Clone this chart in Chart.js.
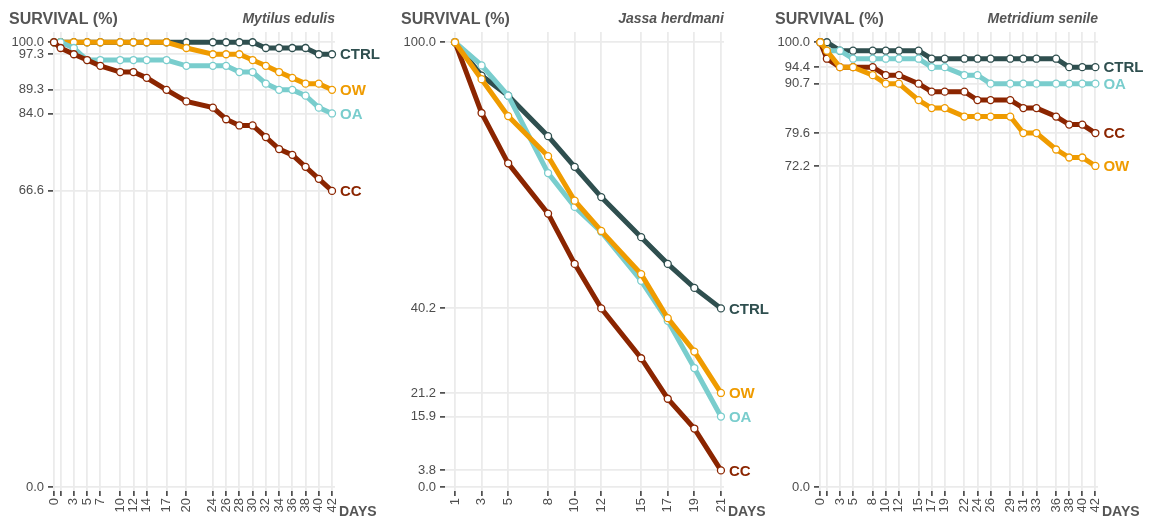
<!DOCTYPE html>
<html>
<head>
<meta charset="utf-8">
<script src="https://cdn.jsdelivr.net/npm/chart.js@4.4.0/dist/chart.umd.min.js"></script>
<style>
html, body { margin: 0; padding: 0; background: #fff; }
#wrap { position: relative; width: 1149px; height: 522px; overflow: hidden; }
.panel { position: absolute; top: 0; }
</style>
</head>
<body>
<div id="wrap">
  <div class="panel" style="left:0"><canvas id="c1" width="400" height="522"></canvas></div>
  <div class="panel" style="left:383px"><canvas id="c2" width="400" height="522"></canvas></div>
  <div class="panel" style="left:766px"><canvas id="c3" width="383" height="522"></canvas></div>
</div>
<script>
// treatments
var treatments = ['CTRL', 'OW', 'OA', 'CC'];
var colors = { CTRL: '#2f4f4f', OW: '#ef9b00', OA: '#79cdcd', CC: '#8b2500' };

// Mytilus edulis
var mytilusDays = [0, 1, 3, 5, 7, 10, 12, 14, 17, 20, 24, 26, 28, 30, 32, 34, 36, 38, 40, 42];
var mytilusCTRL = [100, 100, 100, 100, 100, 100, 100, 100, 100, 100, 100, 100, 100, 100, 98.7, 98.7, 98.7, 98.7, 97.3, 97.3];
var mytilusOW = [100, 100, 100, 100, 100, 100, 100, 100, 100, 98.7, 97.3, 97.3, 97.3, 96.0, 94.7, 93.3, 92.0, 90.7, 90.7, 89.3];
var mytilusOA = [100, 100, 98.7, 96.0, 96.0, 96.0, 96.0, 96.0, 96.0, 94.7, 94.7, 94.7, 93.3, 93.3, 90.7, 89.3, 89.3, 88.0, 85.3, 84.0];
var mytilusCC = [100, 98.7, 97.3, 96.0, 94.7, 93.3, 93.3, 92.0, 89.3, 86.7, 85.3, 82.7, 81.3, 81.3, 78.7, 76.0, 74.7, 72.0, 69.3, 66.6];
var mytilusYTicks = [0, 66.6, 84.0, 89.3, 97.3, 100];

// Jassa herdmani
var jassaDays = [1, 3, 5, 8, 10, 12, 15, 17, 19, 21];
var jassaCTRL = [100, 92.5, 88.0, 78.9, 72.0, 65.2, 56.2, 50.2, 44.8, 40.2];
var jassaOW = [100, 91.7, 83.4, 74.4, 64.4, 57.6, 47.9, 38.0, 30.5, 21.2];
var jassaOA = [100, 94.8, 88.0, 70.6, 63.0, 57.4, 46.4, 37.4, 26.8, 15.9];
var jassaCC = [100, 84.1, 72.8, 61.5, 50.2, 40.2, 29.0, 19.9, 13.2, 3.8];
var jassaYTicks = [0, 3.8, 15.9, 21.2, 40.2, 100];

// Metridium senile
var metridiumDays = [0, 1, 3, 5, 8, 10, 12, 15, 17, 19, 22, 24, 26, 29, 31, 33, 36, 38, 40, 42];
var metridiumCTRL = [100, 100, 98.1, 98.1, 98.1, 98.1, 98.1, 98.1, 96.3, 96.3, 96.3, 96.3, 96.3, 96.3, 96.3, 96.3, 96.3, 94.4, 94.4, 94.4];
var metridiumOW = [100, 98.1, 94.4, 94.4, 92.6, 90.7, 90.7, 87.0, 85.2, 85.2, 83.3, 83.3, 83.3, 83.3, 79.6, 79.6, 75.9, 74.1, 74.1, 72.2];
var metridiumOA = [100, 98.1, 98.1, 96.3, 96.3, 96.3, 96.3, 96.3, 94.4, 94.4, 92.6, 92.6, 90.7, 90.7, 90.7, 90.7, 90.7, 90.7, 90.7, 90.7];
var metridiumCC = [100, 96.3, 94.4, 94.4, 94.4, 92.6, 92.6, 90.7, 88.9, 88.9, 88.9, 87.0, 87.0, 87.0, 85.2, 85.2, 83.3, 81.5, 81.5, 79.6];
var metridiumYTicks = [0, 72.2, 79.6, 90.7, 94.4, 100];

var FONT = '"Liberation Sans", Arial, sans-serif';

var textPlugin = {
    id: 'panelText',
    afterDatasetsDraw: function (chart) {
        var ctx = chart.ctx;
        ctx.save();
        ctx.textBaseline = 'middle';
        ctx.textAlign = 'left';
        ctx.font = 'bold 15px ' + FONT;
        chart.data.datasets.forEach(function (ds, i) {
            var pts = chart.getDatasetMeta(i).data;
            var last = pts[pts.length - 1];
            ctx.fillStyle = ds.borderColor;
            ctx.fillText(ds.label, last.x + 8, last.y + 1);
        });
        ctx.restore();
    },
    afterDraw: function (chart) {
        var ctx = chart.ctx;
        var area = chart.chartArea;
        var o = chart.options.plugins.panelText;
        ctx.save();
        ctx.fillStyle = '#555555';
        ctx.textBaseline = 'alphabetic';
        ctx.font = 'bold 16px ' + FONT;
        ctx.textAlign = 'left';
        ctx.fillText('SURVIVAL (%)', area.left - 44, 24);
        ctx.font = 'italic bold 14px ' + FONT;
        ctx.textAlign = 'right';
        ctx.fillText(o.species, area.right, 23);
        ctx.font = 'bold 14px ' + FONT;
        ctx.textAlign = 'left';
        ctx.textBaseline = 'middle';
        ctx.fillText('DAYS', area.right + 4, 512);
        ctx.restore();
    }
};

function makePanel(id, p) {
    var canvas = document.getElementById(id);
    var datasets = p.series.map(function (s) {
        return {
            label: s.name,
            data: p.days.map(function (d, i) { return { x: d, y: s.values[i] }; }),
            borderColor: colors[s.name],
            backgroundColor: '#ffffff',
            pointBackgroundColor: '#ffffff',
            pointBorderColor: colors[s.name],
            pointBorderWidth: 1.3,
            pointRadius: 3.5,
            borderWidth: 5,
            tension: 0,
            clip: false,
            order: s.order
        };
    });
    new Chart(canvas, {
        type: 'line',
        data: { datasets: datasets },
        options: {
            responsive: false,
            animation: false,
            layout: { padding: { left: 0, right: canvas.width - p.right, top: 32, bottom: 0 } },
            plugins: {
                legend: { display: false },
                tooltip: { enabled: false },
                panelText: { species: p.species }
            },
            scales: {
                x: {
                    type: 'linear',
                    min: p.xmin,
                    max: p.xmax,
                    afterBuildTicks: function (scale) {
                        scale.ticks = p.days.map(function (v) { return { value: v }; });
                    },
                    afterFit: function (scale) { scale.height = 31; },
                    ticks: {
                        autoSkip: false,
                        minRotation: 90,
                        maxRotation: 90,
                        padding: 2,
                        color: '#4d4d4d',
                        font: { family: FONT, size: 13 },
                        callback: function (v) { return p.hideX.indexOf(v) >= 0 ? '' : String(v); }
                    },
                    grid: { color: '#ebebeb', lineWidth: 1.8, tickColor: '#333333', tickLength: 5, tickWidth: 1.5 },
                    border: { display: false }
                },
                y: {
                    type: 'linear',
                    min: -0.83,
                    max: 102.3,
                    afterBuildTicks: function (scale) {
                        scale.ticks = p.yTicks.map(function (v) { return { value: v }; });
                    },
                    afterFit: function (scale) { scale.width = p.left; },
                    ticks: {
                        padding: 4,
                        color: '#4d4d4d',
                        font: { family: FONT, size: 13 },
                        callback: function (v) { return Number(v).toFixed(1); }
                    },
                    grid: { color: '#ebebeb', lineWidth: 1.8, tickColor: '#333333', tickLength: 5, tickWidth: 1.5 },
                    border: { display: false }
                }
            }
        },
        plugins: [textPlugin]
    });
}

makePanel('c1', {
    species: 'Mytilus edulis',
    days: mytilusDays, yTicks: mytilusYTicks, hideX: [1],
    left: 53, right: 335, xmin: -0.15, xmax: 42.45,
    series: [
        { name: 'CTRL', values: mytilusCTRL, order: 4 },
        { name: 'OW', values: mytilusOW, order: 3 },
        { name: 'OA', values: mytilusOA, order: 2 },
        { name: 'CC', values: mytilusCC, order: 1 }
    ]
});

makePanel('c2', {
    species: 'Jassa herdmani',
    days: jassaDays, yTicks: jassaYTicks, hideX: [],
    left: 62, right: 341, xmin: 0.25, xmax: 21.23,
    series: [
        { name: 'CTRL', values: jassaCTRL, order: 4 },
        { name: 'OW', values: jassaOW, order: 1 },
        { name: 'OA', values: jassaOA, order: 2 },
        { name: 'CC', values: jassaCC, order: 3 }
    ]
});

makePanel('c3', {
    species: 'Metridium senile',
    days: metridiumDays, yTicks: metridiumYTicks, hideX: [1],
    left: 53, right: 332, xmin: -0.2, xmax: 42.4,
    series: [
        { name: 'CTRL', values: metridiumCTRL, order: 4 },
        { name: 'OW', values: metridiumOW, order: 1 },
        { name: 'OA', values: metridiumOA, order: 3 },
        { name: 'CC', values: metridiumCC, order: 2 }
    ]
});
</script>
</body>
</html>
